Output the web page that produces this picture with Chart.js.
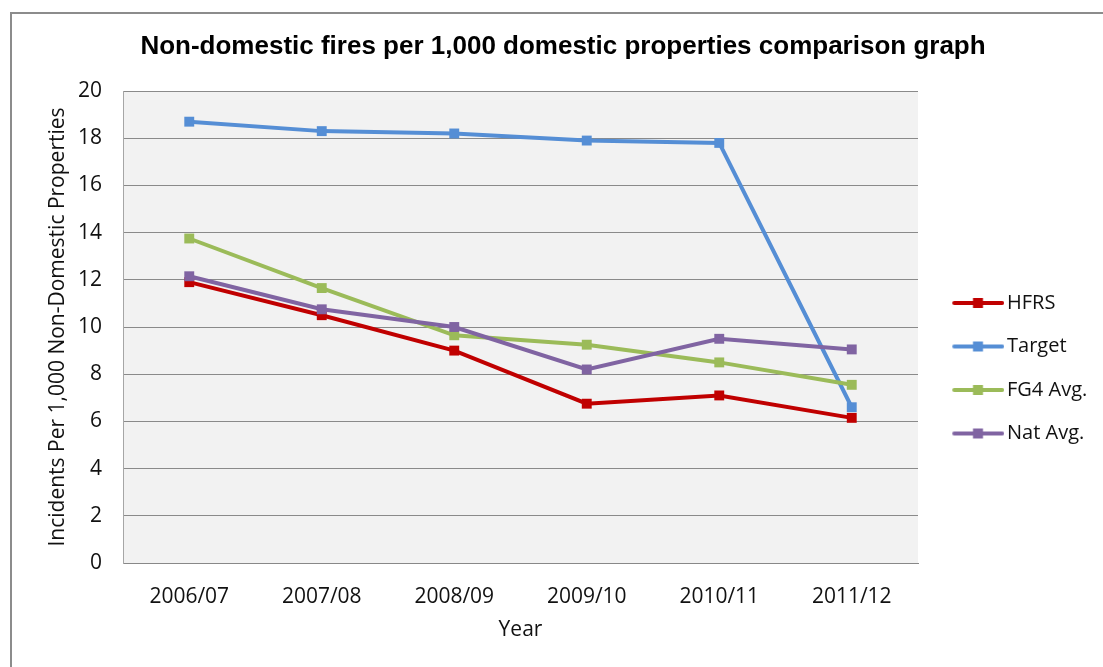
<!DOCTYPE html>
<html>
<head>
<meta charset="utf-8">
<script src="https://cdn.jsdelivr.net/npm/chart.js@4/dist/chart.umd.min.js"></script>
<style>
  html, body { margin: 0; padding: 0; background: #ffffff; overflow: hidden; }
  #wrap { position: relative; width: 1103px; height: 667px; overflow: hidden; }
  #frame { position: absolute; left: 10px; top: 12px; width: 1200px; height: 800px; border: 2px solid #8c8c8c; box-sizing: border-box; }
  #c { position: absolute; left: 0; top: 0; }
</style>
</head>
<body>
<div id="wrap">
  <div id="frame"></div>
  <canvas id="c" width="1103" height="667"></canvas>
</div>
<script>
// ---- Data ----
const categories = ['2006/07', '2007/08', '2008/09', '2009/10', '2010/11', '2011/12'];
const hfrs   = [11.9, 10.5, 9.0, 6.75, 7.1, 6.15];
const target = [18.7, 18.3, 18.2, 17.9, 17.8, 6.6];
const fg4Avg = [13.75, 11.65, 9.65, 9.25, 8.5, 7.55];
const natAvg = [12.15, 10.75, 10.0, 8.2, 9.5, 9.05];
const seriesNames = ['HFRS', 'Target', 'FG4 Avg.', 'Nat Avg.'];
const yTicksMin = 0, yTicksMax = 20, yTicksStep = 2;

const titleText = 'Non-domestic fires per 1,000 domestic properties comparison graph';
const yTitle = 'Incidents Per 1,000 Non-Domestic Properties';
const xTitle = 'Year';

// ---- Styles ----
const colors = ['#c00000', '#558ed5', '#9bbb59', '#8064a2'];
const FONT = "'Open Sans', 'DejaVu Sans', sans-serif";

function legendImage(color) {
  const cv = document.createElement('canvas');
  cv.width = 70; cv.height = 14;
  const g = cv.getContext('2d');
  g.strokeStyle = color; g.lineWidth = 4; g.lineCap = 'round';
  g.beginPath(); g.moveTo(20, 7); g.lineTo(68, 7); g.stroke();
  g.fillStyle = color;
  g.fillRect(43.75 - 5, 2, 10, 10);
  return cv;
}
const legendImgs = colors.map(legendImage);

const plotBg = {
  id: 'plotBg',
  beforeDraw(chart) {
    const a = chart.chartArea, ctx = chart.ctx;
    ctx.save(); ctx.fillStyle = '#f2f2f2';
    ctx.fillRect(a.left, a.top, a.right - a.left, a.bottom - a.top);
    ctx.restore();
  }
};
const LEGEND_W = 185;
const legendWidth = {
  id: 'legendWidth',
  beforeLayout(chart) {
    const lg = chart.legend;
    if (lg && !lg.__patched) {
      const orig = lg.fit;
      lg.fit = function () { orig.call(this); this.width = LEGEND_W; };
      lg.__patched = true;
    }
  }
};

const seriesData = [hfrs, target, fg4Avg, natAvg];
const datasets = seriesNames.map((name, i) => ({
  label: name,
  data: seriesData[i],
  borderColor: colors[i],
  backgroundColor: colors[i],
  borderWidth: 4,
  pointStyle: 'rect',
  pointRadius: 7,
  pointBorderWidth: 0,
  pointBackgroundColor: colors[i],
  tension: 0,
  order: 4 - i
}));

new Chart(document.getElementById('c'), {
  type: 'line',
  data: { labels: categories, datasets },
  plugins: [plotBg, legendWidth],
  options: {
    responsive: false,
    devicePixelRatio: 1,
    animation: false,
    layout: { padding: { left: 23, right: 0, top: 0, bottom: 0 } },
    plugins: {
      tooltip: { enabled: false },
      title: {
        display: true,
        text: titleText,
        color: '#000000',
        font: { family: "'Liberation Sans', Arial, sans-serif", size: 26, weight: 'bold', lineHeight: 1.2 },
        padding: { top: 31, bottom: 28.8 }
      },
      legend: {
        display: true,
        position: 'right',
        align: 'center',
        title: { display: true, text: ' ', font: { size: 12, lineHeight: 1.2 }, padding: { top: 27.5, bottom: 27.6 } },
        labels: {
          usePointStyle: true,
          pointStyleWidth: 55.5,
          padding: 23.5,
          color: '#111111',
          font: { family: FONT, size: 20 },
          generateLabels(chart) {
            return chart.data.datasets.map((ds, i) => ({
              text: ds.label,
              fillStyle: colors[i],
              strokeStyle: colors[i],
              lineWidth: 0,
              pointStyle: legendImgs[i],
              hidden: false,
              datasetIndex: i,
              fontColor: '#111111'
            }));
          }
        }
      }
    },
    scales: {
      x: {
        offset: true,
        afterFit(s) { s.height = 104; },
        grid: { display: false, drawTicks: false, offset: true },
        border: { display: true, color: '#888888', width: 1 },
        ticks: { color: '#111111', font: { family: FONT, size: 21 }, padding: 21, maxRotation: 0 },
        title: { display: true, text: xTitle, color: '#111111', font: { family: FONT, size: 21, lineHeight: 1.2 }, padding: { top: 0, bottom: 24.4 } }
      },
      y: {
        min: yTicksMin, max: yTicksMax,
        afterFit(s) { s.width = 100; },
        grid: { color: '#8a8a8a', lineWidth: 1, drawTicks: false },
        border: { display: true, color: '#a6a6a6', width: 1 },
        ticks: { stepSize: yTicksStep, color: '#111111', font: { family: FONT, size: 21 }, padding: 21 },
        title: { display: true, text: yTitle, color: '#111111', font: { family: FONT, size: 21, lineHeight: 1.2 }, padding: { top: 22, bottom: 0 } }
      }
    }
  }
});
</script>
</body>
</html>
